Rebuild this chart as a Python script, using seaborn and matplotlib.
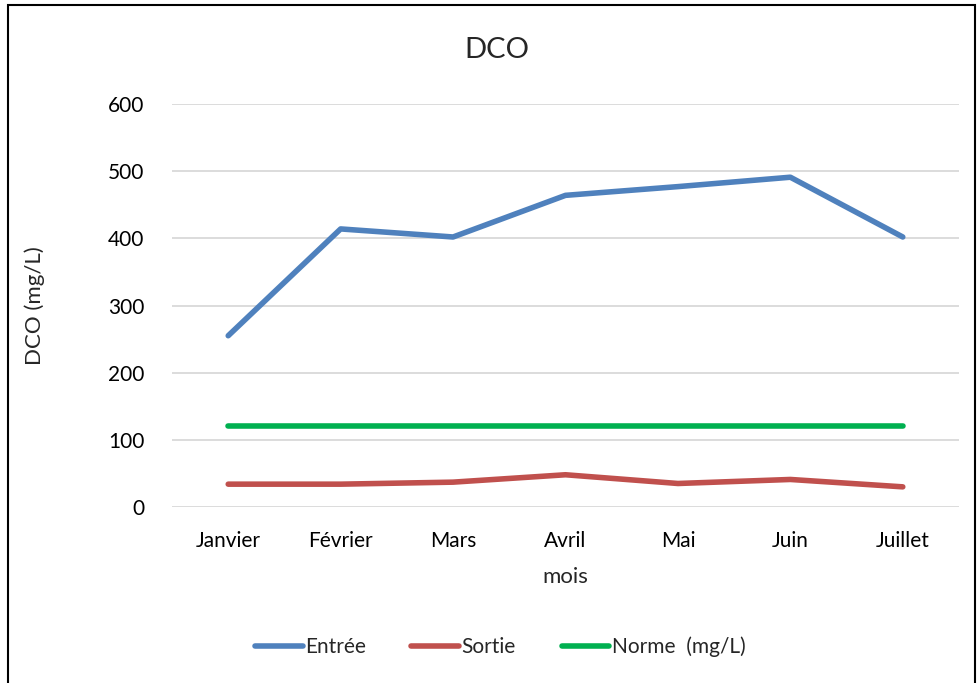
import matplotlib
matplotlib.use("Agg")
import matplotlib.pyplot as plt
import seaborn as sns
import pandas as pd
from matplotlib.patches import Rectangle

mois = ["Janvier", "Février", "Mars", "Avril", "Mai", "Juin", "Juillet"]
entree = [255, 414, 402, 464, 477, 491, 402]
sortie = [34, 34, 37, 48, 35, 41, 30]
norme = [120, 120, 120, 120, 120, 120, 120]
series_names = ["Entrée", "Sortie", "Norme  (mg/L)"]
colors = ["#4F81BD", "#C0504D", "#00B050"]

df = pd.DataFrame({"mois": mois * 3,
                   "val": entree + sortie + norme,
                   "serie": [series_names[0]] * 7 + [series_names[1]] * 7 + [series_names[2]] * 7})
df["x"] = list(range(7)) * 3

sns.set_style("white")
plt.rcParams['font.family'] = ['Lato', 'DejaVu Sans']

fig = plt.figure(figsize=(9.77, 6.83), dpi=100)
ax = fig.add_axes([172 / 977, 1 - 507 / 683, (959 - 172) / 977, (507 - 104) / 683])

sns.lineplot(data=df, x="x", y="val", hue="serie", palette=colors, linewidth=4,
             ax=ax, legend=True, solid_capstyle="round")

ax.set_xlim(-0.5, 6.5)
ax.set_ylim(0, 600)
ax.set_yticks(range(0, 601, 100))
ax.set_xticks(range(7))
ax.set_xticklabels(mois)
ax.tick_params(axis="both", labelsize=15, length=0, colors="#000000")
ax.tick_params(axis="x", pad=17)
ax.tick_params(axis="y", pad=20)
ax.yaxis.grid(True, color="#D9D9D9", linewidth=1.3)
ax.set_axisbelow(True)
for s in ax.spines.values():
    s.set_visible(False)

ax.set_xlabel("mois", fontsize=16)
ax.set_ylabel("DCO (mg/L)", fontsize=16)
ax.xaxis.set_label_coords(0.5, 1 - (577 - 104) / (507 - 104), transform=ax.transAxes)
ax.yaxis.set_label_coords(-(172 - 35) / (959 - 172), 0.5, transform=ax.transAxes)
ax.xaxis.label.set_va("center")
ax.yaxis.label.set_va("center")

fig.text(497 / 977, 1 - 50 / 683, "DCO", fontsize=21, ha="center", va="center")

handles, labels = ax.get_legend_handles_labels()
leg = ax.legend(handles, labels, loc="center", bbox_to_anchor=(500 / 977, 1 - 647 / 683),
                bbox_transform=fig.transFigure, ncol=3, frameon=False, fontsize=15,
                handlelength=2.3, handletextpad=0.1, columnspacing=2.2)

fig.patches.append(Rectangle((8 / 977, -0.02), (975 - 8) / 977, 1 - 5 / 683 + 0.02,
                             transform=fig.transFigure, fill=False,
                             edgecolor="black", linewidth=1.5))

fig.savefig("out.png", dpi=100, facecolor="white")
